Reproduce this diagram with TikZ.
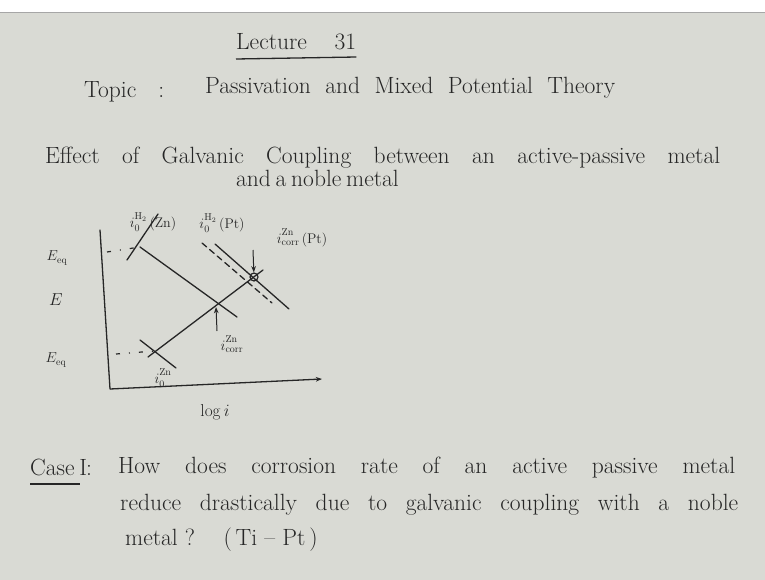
\documentclass[tikz,border=0pt]{standalone}
\usepackage{amsmath}
\usepackage{tikz}
\usetikzlibrary{arrows.meta,positioning}

\definecolor{board}{HTML}{D9DAD4}
\definecolor{ink}{HTML}{262626}

% stretch a line of text to a given width
\newcommand{\spreadto}[2]{\makebox[#1][s]{#2}}
% superscript lifted a little off its subscript
\newcommand{\upsc}[1]{\rule[-3pt]{0pt}{3pt}\mathrm{#1}}

\begin{document}
\begin{tikzpicture}[x=1pt, y=-1pt,
    txt/.style={anchor=base west, inner sep=0pt, text=ink, font=\fontsize{23.5}{27}\selectfont},
    lbl/.style={inner sep=0pt, text=ink, font=\fontsize{14}{16}\selectfont},
    curve/.style={draw=ink, line width=1.3pt, line cap=round},
    dashcurve/.style={curve, dash pattern=on 6pt off 4pt},
    guide/.style={draw=ink, line width=1.2pt, dash pattern=on 4pt off 9pt on 1pt off 9pt},
    arr/.style={-{Stealth[length=2.2mm]}, draw=ink, line width=1pt},
    uline/.style={draw=ink, line width=1.3pt}
]
    \useasboundingbox (0,0) rectangle (765,580);
    \fill[board] (0,0) rectangle (765,580);
    \fill[white] (0,0) rectangle (765,12);
    \draw[gray!70, line width=1pt] (0,12.5) -- (765,12.5);

    % heading
    \node[txt] (lecture) at (236,50) {\spreadto{120pt}{Lecture \ 31}};
    \draw[uline] ([yshift=-9pt]lecture.base west) -- ([yshift=-7pt]lecture.base east);
    \node[txt] (topic) at (84,98) {\spreadto{80pt}{Topic \ \ :}};
    \node[txt] (title) at (205,94) {\spreadto{410pt}{Passivation and Mixed Potential Theory}};
    \node[txt] (effect1) at (45,164) {\spreadto{675pt}{Effect of Galvanic Coupling between an active-passive metal}};
    \node[txt] (effect2) at (236,186) {\spreadto{150pt}{and a noble metal}};

    % axes
    \coordinate (ytop) at (100,230);
    \coordinate (orig) at (110,389);
    \coordinate (xend) at (322,379);
    \draw[curve] (ytop) -- (orig);
    \draw[arr, line width=1.3pt] (orig) -- (xend);
    \node[lbl, font=\fontsize{16}{18}\selectfont] (eaxis) at (56,300) {$E$};
    \node[lbl] (eeqtop) at (57,258) {$E_{\mathrm{eq}}$};
    \node[lbl] (eeqbot) at (56,360) {$E_{\mathrm{eq}}$};
    \node[lbl, font=\fontsize{16}{18}\selectfont] (logi) at (215,412) {$\log i$};

    % exchange current points and lines
    \coordinate (hzn) at (140,247);
    \coordinate (hznend) at (237,317);
    \coordinate (znzero) at (155,351);
    \coordinate (znstart) at (148,357);
    \coordinate (znend) at (263,270);
    \coordinate (corrzn) at (216,304);
    \node[circle, draw=ink, line width=1.2pt, minimum size=8pt, inner sep=0pt] (corrpt) at (254,277) {};

    \draw[guide] (107,252) -- (hzn);
    \draw[guide] (116,354) -- (znzero);
    \draw[curve] (hzn) -- (hznend);
    \draw[curve] (127,260) -- (158,214);
    \draw[curve] (znstart) -- (znend);
    \draw[curve] (140,340) -- (176,368);
    \draw[curve] (215,244) -- (289,309);
    \draw[dashcurve] (202,243) -- (272,303);

    % labels
    \node[lbl] (iozn) at (153,222) {$i_0^{\upsc{H}_2}\,$(Zn)};
    \node[lbl] (iopt) at (222,223) {$i_0^{\upsc{H}_2}\,$(Pt)};
    \node[lbl] (icorrpt) at (302,238) {$i_{\mathrm{corr}}^{\upsc{Zn}}\,$(Pt)};
    \node[lbl] (icorrzn) at (232,344) {$i_{\mathrm{corr}}^{\upsc{Zn}}$};
    \node[lbl] (iozero) at (163,378) {$i_0^{\upsc{Zn}}$};

    \coordinate (downstart) at (253,250);
    \coordinate (upstart) at (217,331);
    \draw[arr] (downstart) -- (corrpt);
    \draw[arr] (upstart) -- ([yshift=-3pt]corrzn);

    % question
    \node[txt] (case) at (30,475) {\spreadto{50pt}{Case I}};
    \draw[uline] ([yshift=-9pt]case.base west) -- ([yshift=-9pt]case.base east);
    \node[txt] (colon) at (86,475) {:};
    \node[txt] (q1) at (118,473) {\spreadto{617pt}{How does corrosion rate of an active passive metal}};
    \node[txt] (q2) at (120,510) {\spreadto{618pt}{reduce drastically due to galvanic coupling with a noble}};
    \node[txt] (q3) at (125,545) {metal ?\ \ \ \ (\,Ti -- Pt\,)};
\end{tikzpicture}
\end{document}
